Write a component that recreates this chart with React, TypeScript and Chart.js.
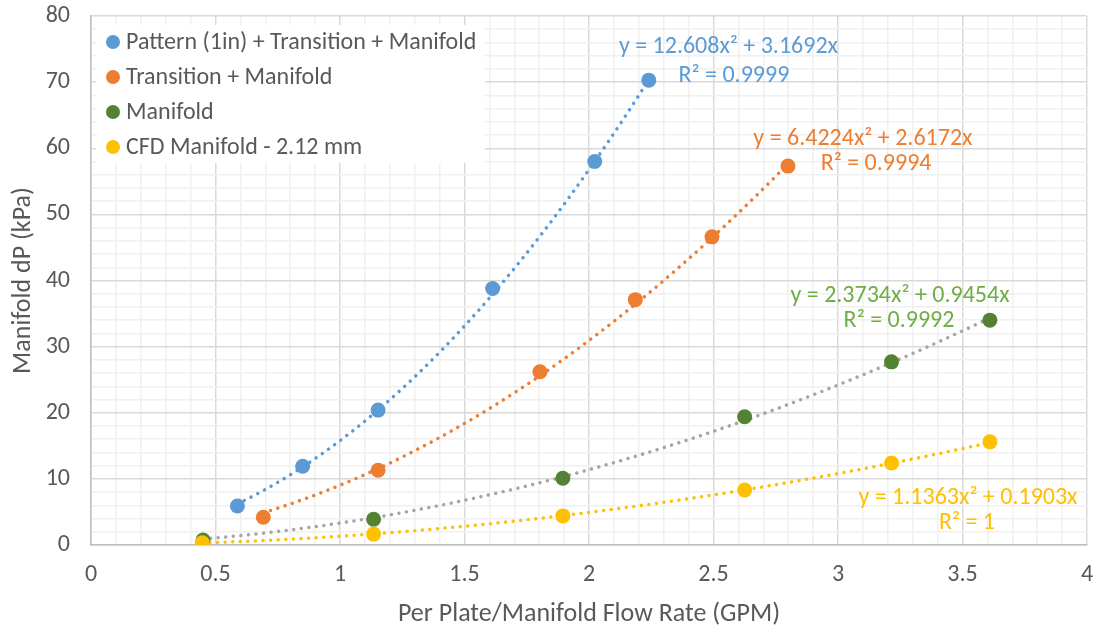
import React, { useEffect, useRef } from 'react';
import { Chart, registerables } from 'chart.js';

Chart.register(...registerables);

const FONT_FAMILY = 'Carlito, Calibri, Lato, "Open Sans", sans-serif';
const TEXT_COLOR = '#595959';

// Series names (legend order)
const seriesNames = [
  'Pattern (1in) + Transition + Manifold',
  'Transition + Manifold',
  'Manifold',
  'CFD Manifold - 2.12 mm',
];

// Measured pressure drop (kPa) against flow rate (GPM)
const patternX = [0.588, 0.85, 1.153, 1.613, 2.023, 2.24];
const patternY = [5.9, 11.9, 20.4, 38.8, 58.0, 70.3];

const transitionX = [0.692, 1.153, 1.803, 2.186, 2.494, 2.799];
const transitionY = [4.2, 11.3, 26.2, 37.1, 46.6, 57.3];

const manifoldX = [0.45, 1.135, 1.895, 2.625, 3.215, 3.61];
const manifoldY = [0.75, 3.9, 10.1, 19.4, 27.7, 34.0];

const cfdX = [0.447, 1.135, 1.895, 2.625, 3.215, 3.61];
const cfdY = [0.35, 1.65, 4.4, 8.3, 12.4, 15.6];

// Second-order polynomial trendlines through the origin: y = a*x^2 + b*x
const fitA = [12.608, 6.4224, 2.3734, 1.1363];
const fitB = [3.1692, 2.6172, 0.9454, 0.1903];
const fitR2 = ['0.9999', '0.9994', '0.9992', '1'];

// Axis tick labels
const xTickLabels = ['0', '0.5', '1', '1.5', '2', '2.5', '3', '3.5', '4'];
const yTickLabels = ['0', '10', '20', '30', '40', '50', '60', '70', '80'];

const markerColors = ['#5B9BD5', '#ED7D31', '#548235', '#FFC000'];
const trendColors = ['#5B9BD5', '#ED7D31', '#A5A5A5', '#FFC000'];
const labelColors = ['#5B9BD5', '#ED7D31', '#70AD47', '#FFC000'];

// Equation label centres, in axis units (line 1 and line 2)
const labelPos = [
  [[2.56, 75.3], [2.582, 71.0]],
  [[3.1, 61.4], [3.153, 57.6]],
  [[3.249, 37.7], [3.245, 33.9]],
  [[3.522, 7.1], [3.518, 3.4]],
];

const xs = [patternX, transitionX, manifoldX, cfdX];
const ys = [patternY, transitionY, manifoldY, cfdY];

function trendPoints(i: number) {
  const lo = Math.min(...xs[i]);
  const hi = Math.max(...xs[i]);
  const n = 120;
  const pts: { x: number; y: number }[] = [];
  for (let k = 0; k <= n; k++) {
    const x = lo + ((hi - lo) * k) / n;
    pts.push({ x, y: fitA[i] * x * x + fitB[i] * x });
  }
  return pts;
}

const overlayPlugin = {
  id: 'overlay',
  afterDatasetsDraw(chart: any) {
    const { ctx, chartArea, scales } = chart;
    const font = `24px ${FONT_FAMILY}`;
    ctx.save();
    // trendline equations
    ctx.font = font;
    ctx.textAlign = 'center';
    ctx.textBaseline = 'middle';
    for (let i = 0; i < 4; i++) {
      ctx.fillStyle = labelColors[i];
      const l1 = `y = ${fitA[i]}x\u00B2 + ${fitB[i]}x`;
      const l2 = `R\u00B2 = ${fitR2[i]}`;
      const [p1, p2] = labelPos[i];
      ctx.fillText(l1, scales.x.getPixelForValue(p1[0]), scales.y.getPixelForValue(p1[1]));
      ctx.fillText(l2, scales.x.getPixelForValue(p2[0]), scales.y.getPixelForValue(p2[1]));
    }
    // legend
    const lx = chartArea.left + 5;
    const ly = chartArea.top + 9;
    ctx.fillStyle = '#ffffff';
    ctx.fillRect(lx, ly, 389, 138);
    ctx.textAlign = 'left';
    for (let i = 0; i < 4; i++) {
      const cy = ly + 17 + i * 35;
      ctx.beginPath();
      ctx.arc(lx + 17, cy, 7, 0, Math.PI * 2);
      ctx.fillStyle = markerColors[i];
      ctx.fill();
      ctx.fillStyle = TEXT_COLOR;
      ctx.fillText(seriesNames[i], lx + 30, cy + 1);
    }
    ctx.restore();
  },
};

const isMajor = (v: number, step: number) => Math.abs(v / step - Math.round(v / step)) < 1e-6;

export default function App() {
  const canvasRef = useRef<HTMLCanvasElement | null>(null);

  useEffect(() => {
    document.body.style.margin = '0';
    const canvas = canvasRef.current;
    if (!canvas) return;

    const scatterSets = seriesNames.map((name, i) => ({
      type: 'scatter' as const,
      label: name,
      data: xs[i].map((x, k) => ({ x, y: ys[i][k] })),
      backgroundColor: markerColors[i],
      borderColor: markerColors[i],
      pointRadius: 7.5,
      pointBorderWidth: 0,
      showLine: false,
      order: 3 - i,
    }));

    const trendSets = seriesNames.map((name, i) => ({
      type: 'line' as const,
      label: name + ' trend',
      data: trendPoints(i),
      borderColor: trendColors[i],
      borderWidth: 3.5,
      borderDash: [0.001, 7.6],
      borderCapStyle: 'round' as const,
      pointRadius: 0,
      fill: false,
      tension: 0,
      order: 10 + i,
    }));

    const chart = new Chart(canvas, {
      type: 'scatter',
      data: { datasets: [...scatterSets, ...trendSets] as any },
      options: {
        animation: false,
        responsive: false,
        layout: { padding: { top: 16, right: 10, left: 0, bottom: 0 } },
        plugins: { legend: { display: false }, tooltip: { enabled: false } },
        scales: {
          x: {
            type: 'linear',
            min: 0,
            max: 4,
            afterBuildTicks: (scale: any) => {
              const t: any[] = [];
              for (let k = 0; k <= 40; k++) t.push({ value: k / 10 });
              scale.ticks = t;
            },
            afterFit: (scale: any) => {
              scale.height = 87;
              scale.paddingLeft = 0;
              scale.paddingRight = 0;
            },
            ticks: {
              autoSkip: false,
              maxRotation: 0,
              padding: 16,
              color: TEXT_COLOR,
              font: { family: FONT_FAMILY, size: 24 },
              callback: (v: any) => (isMajor(Number(v), 0.5) ? xTickLabels[Math.round(Number(v) / 0.5)] : ''),
            },
            grid: {
              drawTicks: false,
              color: (c: any) => (isMajor(c.tick.value, 0.5) ? '#d9d9d9' : '#f0f0f0'),
              lineWidth: 1.5,
            },
            border: { color: '#bfbfbf', width: 1.5 },
            title: {
              display: true,
              text: 'Per Plate/Manifold Flow Rate (GPM)',
              color: TEXT_COLOR,
              font: { family: FONT_FAMILY, size: 26 },
              padding: { top: 0, bottom: 2 },
            },
          },
          y: {
            type: 'linear',
            min: 0,
            max: 80,
            afterBuildTicks: (scale: any) => {
              const t: any[] = [];
              for (let k = 0; k <= 40; k++) t.push({ value: k * 2 });
              scale.ticks = t;
            },
            afterFit: (scale: any) => {
              scale.width = 91;
              scale.paddingTop = 0;
              scale.paddingBottom = 0;
            },
            ticks: {
              autoSkip: false,
              padding: 21,
              color: TEXT_COLOR,
              font: { family: FONT_FAMILY, size: 24 },
              callback: (v: any) => (isMajor(Number(v), 10) ? yTickLabels[Math.round(Number(v) / 10)] : ''),
            },
            grid: {
              drawTicks: false,
              color: (c: any) => (isMajor(c.tick.value, 10) ? '#d9d9d9' : '#f0f0f0'),
              lineWidth: 1.5,
            },
            border: { color: '#bfbfbf', width: 1.5 },
            title: {
              display: true,
              text: 'Manifold dP (kPa)',
              color: TEXT_COLOR,
              font: { family: FONT_FAMILY, size: 26 },
              padding: { top: 8, bottom: 0 },
            },
          },
        },
      },
      plugins: [overlayPlugin],
    });

    return () => chart.destroy();
  }, []);

  return (
    <div style={{ width: 1097, height: 632, background: '#ffffff' }}>
      <canvas ref={canvasRef} width={1097} height={632} style={{ display: 'block' }} />
    </div>
  );
}
